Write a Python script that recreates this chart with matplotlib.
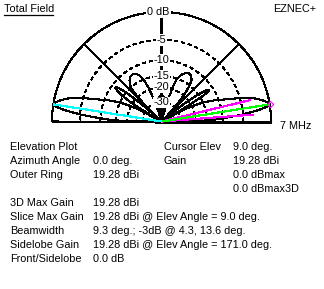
import numpy as np
import matplotlib
matplotlib.use("Agg")
import matplotlib.pyplot as plt
from matplotlib.lines import Line2D

# Elevation pattern: angle above the horizon (deg) and gain relative to max (dB)
elev_deg = [0, 1, 2, 3, 4, 5, 6, 7, 8, 9, 10, 11, 12, 13, 14, 15, 16, 17, 18, 19,
            20, 21, 22, 23, 24, 25, 26, 27, 28, 29,
            30, 31, 32, 33, 34, 35, 36, 37, 38, 39, 40, 42,
            44, 46, 48, 50, 52, 54, 57, 60, 63, 66, 68, 70, 72, 74, 76,
            78, 81, 84, 87, 90, 93, 96, 99, 102, 104,
            107, 109, 111, 113, 116, 119, 122, 125, 128, 130, 132, 134, 136, 137,
            138, 139, 140, 141, 142, 143, 144, 145, 146, 147, 148, 149, 150, 151,
            152, 153, 154, 155, 156, 157, 158, 159, 160, 161, 162, 163, 164, 165,
            166, 167, 168, 169, 170, 171, 172, 173, 174, 175, 176, 177, 178, 179, 180]
rel_db = [-99, -17, -12.5, -10, -7.5, -5, -3.2, -1.6, -0.5, 0, -0.2, -0.6, -1.1, -1.7,
          -2.3, -3.0, -4.0, -5.4, -7.0, -8.2,
          -9.3, -10.3, -11.5, -12.8, -14.3, -16.2, -18.5, -21.5, -27, -99,
          -30, -18, -13, -11.2, -11.2, -12.2, -14, -17, -22, -32, -99, -99,
          -99, -40, -26, -19, -15, -13, -12, -11.7, -12, -12.8, -13.8, -15, -19, -28, -99,
          -40, -30, -26, -25, -25, -25, -26, -30, -40, -99,
          -40, -26, -19, -15, -12.8, -11.9, -11.7, -12, -12.8, -13.8, -15, -19, -30, -99,
          -40, -26, -18, -14, -12, -11.2, -11.2, -12, -13.5, -15.5, -19, -25, -40, -99,
          -27, -21.5, -18.5, -16.2, -14.3, -12.8, -11.5, -10.3, -9.3, -8.2, -7.0, -5.4,
          -4.0, -3.0,
          -2.3, -1.7, -1.1, -0.6, -0.2, 0, -0.5, -1.6, -3.2, -5, -7.5, -10, -12.5, -17, -99]

ring_db = [-5, -10, -15, -20, -30]
ring_labels = ["-5", "-10", "-15", "-20", "-30"]
base_tick_db = [0, -5, -10, -15, -20, -25, -30, -35, -40]
spoke_deg = [45, 90, 135]
cursor_elev = 9.0
sidelobe_elev = 171.0
beam_edges = [4.3, 13.6]
half_power_db = -3.0
FLOOR = -100.0

info_rows = [
    ("Elevation Plot", "", "Cursor Elev", "9.0 deg."),
    ("Azimuth Angle", "0.0 deg.", "Gain", "19.28 dBi"),
    ("Outer Ring", "19.28 dBi", "", "0.0 dBmax"),
    ("", "", "", "0.0 dBmax3D"),
    ("3D Max Gain", "19.28 dBi", "", ""),
    ("Slice Max Gain", "19.28 dBi @ Elev Angle = 9.0 deg.", "", ""),
    ("Beamwidth", "9.3 deg.; -3dB @ 4.3, 13.6 deg.", "", ""),
    ("Sidelobe Gain", "19.28 dBi @ Elev Angle = 171.0 deg.", "", ""),
    ("Front/Sidelobe", "0.0 dB", "", ""),
]


def arrl_radius(db):
    # ARRL log-periodic radial scale: 0.89 ratio per 2 dB, outer ring = 0 dB
    db = np.asarray(db, dtype=float)
    r = 0.89 ** (-db / 2.0)
    return np.where(db <= FLOOR + 1, 0.0, r)


def to_xy(angle_deg, db):
    a = np.radians(np.asarray(angle_deg, dtype=float))
    r = arrl_radius(db)
    return r * np.cos(a), r * np.sin(a)


W, H = 324, 289
cx, cy, R = 161.5, 121.5, 109.5   # plot centre and outer radius, pixels

plt.rcParams["font.family"] = ["Liberation Sans", "DejaVu Sans"]
fig = plt.figure(figsize=(W / 100, H / 100), dpi=100)
fig.patch.set_facecolor("white")

ax = fig.add_axes([0, 0, 1, 1])
ax.set_xlim(-cx / R, (W - cx) / R)
ax.set_ylim(-(H - cy) / R, cy / R)
ax.set_axis_off()

LW = 0.8
kw = dict(lw=LW, clip_on=False, antialiased=False, solid_capstyle="butt")

# outer ring and dashed dB rings
th = np.linspace(0, 180, 361)
ax.plot(*to_xy(th, np.zeros_like(th)), color="black", **kw)
for db in ring_db:
    ax.plot(*to_xy(th, np.full_like(th, db)), color="black", linestyle=(0, (3, 3)), **kw)

# baseline and spokes
for a in [0, 180] + spoke_deg:
    ax.plot(*to_xy([a, a], [FLOOR, 0]), color="black", **kw)

# scale ticks along the baseline
for a in [0, 180]:
    ax.plot(*to_xy([a] * len(base_tick_db), base_tick_db), linestyle="none",
            marker=2, markersize=2.5, markeredgewidth=0.8, color="black", clip_on=False)
ax.plot(*to_xy([90], [-40]), marker="_", markersize=5, markeredgewidth=0.8,
        color="black", clip_on=False)

# pattern
ax.plot(*to_xy(elev_deg, rel_db), color="black", zorder=3, **kw)

# half-power, cursor and sidelobe lines
for b in beam_edges:
    ax.plot(*to_xy([b, b], [FLOOR, half_power_db]), color="#FF00FF", zorder=4, **kw)
ax.plot(*to_xy([cursor_elev] * 2, [FLOOR, 0]), color="#00FF00", zorder=4, **kw)
ax.plot(*to_xy([sidelobe_elev] * 2, [FLOOR, 0]), color="#00FFFF", zorder=4, **kw)
ax.plot(*to_xy([cursor_elev], [0]), marker="D", markersize=3.2, mfc="none",
        mec="#FF00FF", mew=0.8, clip_on=False, zorder=5)

# ring labels on the vertical axis
FS = 7.8
box = dict(facecolor="white", edgecolor="none", pad=0.6)
for db, lab in zip(ring_db, ring_labels):
    x, y = to_xy([90], [db])
    ax.text(x[0], y[0], lab, ha="center", va="center", fontsize=FS,
            bbox=box, zorder=6, clip_on=False)
x0, y0 = to_xy([90], [0])
ax.text(x0[0] - 0.03, y0[0], "0 dB", ha="center", va="center", fontsize=FS,
        bbox=dict(facecolor="white", edgecolor="none", pad=1.0), zorder=6, clip_on=False)


def ftext(x, y, s, **k):
    fig.text(x / W, 1 - y / H, s, fontsize=FS, va="center", ha="left", **k)


ftext(4, 9.5, "Total Field")
fig.add_artist(Line2D([4 / W, 53 / W], [1 - 15 / H] * 2, color="black", lw=0.9))
ftext(273, 9.5, "EZNEC+")
ftext(280, 126, "7 MHz")

cols = [10, 93, 164, 233]
for i, row in enumerate(info_rows):
    y = 147 + i * 14.0
    for x, s in zip(cols, row):
        if s:
            ftext(x, y, s)

fig.savefig("out.png", dpi=100, facecolor="white")
